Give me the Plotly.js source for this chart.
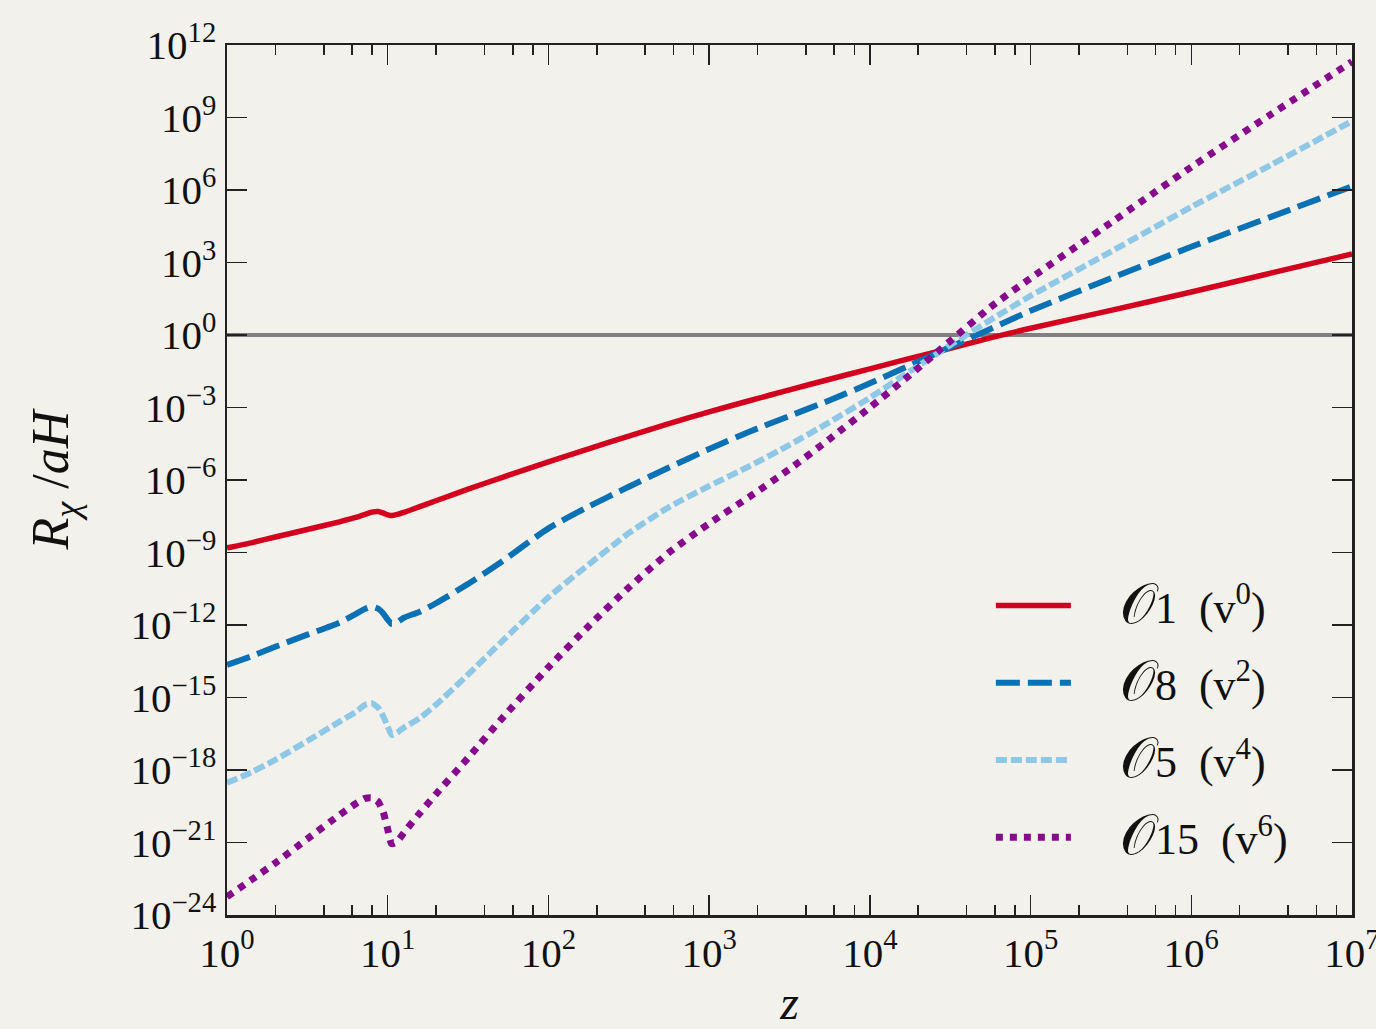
<!DOCTYPE html>
<html>
<head>
<meta charset="utf-8">
<script src="https://cdn.plot.ly/plotly-3.0.1.min.js"></script>
<style>
  html, body { margin: 0; padding: 0; background: #f3f1ec; }
  #chart { width: 1376px; height: 1029px; }
</style>
</head>
<body>
<div id="chart"></div>
<script>
// redshift z (x axis)
const zValues = [1, 1.413, 1.995, 3.162, 5.012, 6.31, 7.244, 7.943, 8.71, 9.333, 10, 10.59, 11.48, 12.59, 15.85, 19.95, 31.62, 50.12, 100, 177.8, 316.2, 562.3, 1000, 1778, 3162, 5623, 1e4, 17783, 31623, 56234, 1e5, 316228, 1e6, 3162278, 1e7];

// log10 of R_chi / aH, one array per operator
const logO1  = [-8.81, -8.6, -8.36, -8.05, -7.73, -7.55, -7.42, -7.33, -7.30, -7.36, -7.44, -7.47, -7.42, -7.34, -7.1, -6.86, -6.38, -5.92, -5.25, -4.71, -4.18, -3.67, -3.18, -2.72, -2.27, -1.83, -1.4, -0.97, -0.55, -0.12, 0.28, 1.02, 1.78, 2.57, 3.35];
const logO8  = [-13.65, -13.3, -12.9, -12.4, -11.9, -11.55, -11.33, -11.24, -11.32, -11.5, -11.78, -11.96, -11.88, -11.7, -11.45, -11.1, -10.3, -9.42, -8.0, -7.1, -6.28, -5.48, -4.72, -4.0, -3.35, -2.7, -2.0, -1.25, -0.5, 0.25, 1.0, 2.35, 3.65, 4.9, 6.15];
const logO5  = [-18.53, -18.1, -17.58, -16.8, -16.0, -15.6, -15.3, -15.24, -15.42, -15.75, -16.2, -16.55, -16.45, -16.25, -15.85, -15.3, -14.05, -12.75, -10.85, -9.5, -8.2, -7.12, -6.25, -5.43, -4.55, -3.6, -2.6, -1.5, -0.42, 0.62, 1.62, 3.45, 5.3, 7.05, 8.85];
const logO15 = [-23.24, -22.55, -21.85, -20.85, -19.86, -19.4, -19.17, -19.15, -19.31, -19.7, -20.45, -21.05, -20.95, -20.6, -19.78, -19.0, -17.5, -15.95, -13.75, -12.05, -10.45, -9.0, -7.8, -6.7, -5.55, -4.3, -3.0, -1.65, -0.25, 1.15, 2.35, 4.65, 6.95, 9.15, 11.31];

const opNumbers = ['1', '8', '5', '15'];
const vPowers = ['0', '2', '4', '6'];

// tick exponents
const xTickExp = [0, 1, 2, 3, 4, 5, 6, 7];
const yTickExp = [12, 9, 6, 3, 0, -3, -6, -9, -12, -15, -18, -21, -24];
const xMinorTicks = [];
for (let d = 0; d < 7; d++) { [2, 4, 6, 8].forEach(m => xMinorTicks.push(m * Math.pow(10, d))); }

const supLabel = e => '10<sup>' + (e < 0 ? '\u2212' + Math.abs(e) : e) + '</sup>';
const toVal = arr => arr.map(v => Math.pow(10, v));
const legendName = i => '\u2003<span style="font-size:56px">𝒪</span>' + opNumbers[i] + '\u2002(v<sup>' + vPowers[i] + '</sup>)';

const styles = [
  {color: '#d2001e', width: 5.5, dash: 'solid'},
  {color: '#0a72b4', width: 6, dash: '24px,8px'},
  {color: '#8fc8e6', width: 6, dash: '11px,4px'},
  {color: '#870a8c', width: 7, dash: '7px,7px'}
];
const series = [logO1, logO8, logO5, logO15];

const traces = series.map((s, i) => ({
  x: zValues,
  y: toVal(s),
  type: 'scatter',
  mode: 'lines',
  name: legendName(i),
  legendgroup: 'g' + i,
  line: {color: styles[i].color, width: styles[i].width, dash: styles[i].dash, shape: 'spline', smoothing: 0.6}
}));

const font = 'Liberation Serif, Times New Roman, serif';
const bg = '#f3f1ec';

const layout = {
  width: 1376, height: 1029,
  paper_bgcolor: bg, plot_bgcolor: bg,
  margin: {l: 227, r: 24, t: 45, b: 114},
  font: {family: font, size: 40, color: '#111'},
  showlegend: true,
  legend: {
    x: 0.679, y: 0.396, xanchor: 'left', yanchor: 'top',
    bgcolor: 'rgba(0,0,0,0)', borderwidth: 0,
    font: {family: font, size: 44, color: '#111'},
    tracegroupgap: 17, itemwidth: 75
  },
  xaxis: {
    type: 'log', range: [0, 7],
    tickmode: 'array', tickvals: xTickExp.map(e => Math.pow(10, e)), ticktext: xTickExp.map(supLabel),
    ticks: 'inside', ticklen: 20, tickwidth: 1.5, tickcolor: '#222',
    minor: {tickmode: 'array', tickvals: xMinorTicks, ticks: 'inside', ticklen: 10, tickwidth: 1.5, tickcolor: '#222'},
    showline: true, linecolor: '#222', linewidth: 2.5, mirror: 'ticks',
    showgrid: false, zeroline: false, ticklabeloverflow: 'allow',
    tickfont: {family: font, size: 41, color: '#111'},
    title: {text: '<i>z</i>', font: {family: font, size: 48, color: '#111'}, standoff: 14}
  },
  yaxis: {
    type: 'log', range: [-24, 12],
    tickmode: 'array', tickvals: yTickExp.map(e => Math.pow(10, e)), ticktext: yTickExp.map(supLabel),
    ticks: 'inside', ticklen: 20, tickwidth: 1.5, tickcolor: '#222',
    showline: true, linecolor: '#222', linewidth: 2.5, mirror: 'ticks',
    showgrid: false, zeroline: false, ticklabeloverflow: 'allow',
    tickfont: {family: font, size: 41, color: '#111'},
    title: {text: '<i>R<sub>χ</sub></i> /<i>aH</i>', font: {family: font, size: 52, color: '#111'}, standoff: 45}
  },
  shapes: [{
    type: 'line', xref: 'paper', x0: 0, x1: 1, yref: 'y', y0: 1, y1: 1,
    line: {color: '#808080', width: 4}, layer: 'below'
  }]
};

Plotly.newPlot('chart', traces, layout, {displayModeBar: false, staticPlot: true});
</script>
</body>
</html>
